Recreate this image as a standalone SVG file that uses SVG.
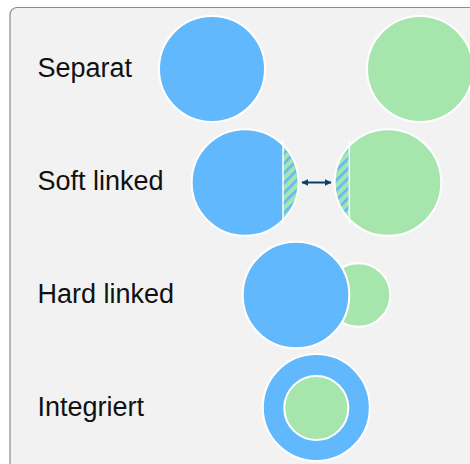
<svg xmlns="http://www.w3.org/2000/svg" width="470" height="464" viewBox="0 0 470 464">
<style>
.lbl{font-family:"Liberation Sans",Arial,sans-serif;font-size:27px;fill:#111}
.b{fill:#62b8fd;stroke:#fff;stroke-width:2}
.g{fill:#a6e6ad;stroke:#fff;stroke-width:2}
</style>
<defs>
<pattern id="hatch" patternUnits="userSpaceOnUse" width="7" height="7" patternTransform="rotate(45)">
<rect width="7" height="7" fill="#a6e6ad"/>
<rect width="2.6" height="7" fill="#62b8fd"/>
</pattern>
<clipPath id="cb"><rect x="283" y="120" width="30" height="130"/></clipPath>
<clipPath id="cg"><rect x="320" y="120" width="29" height="130"/></clipPath>
<marker id="ah" viewBox="0 0 10 10" refX="9" refY="5" markerWidth="7" markerHeight="7" orient="auto-start-reverse" markerUnits="userSpaceOnUse">
<path d="M0,0 L10,5 L0,10 z" fill="#0e3f66"/>
</marker>
</defs>
<rect x="10" y="7.5" width="480" height="480" rx="7" fill="#f2f2f2" stroke="#8c8c8c" stroke-width="1.2"/>
<g id="separat">
<text class="lbl" x="37.5" y="77">Separat</text>
<circle class="b" cx="212" cy="69" r="53"/>
<circle class="g" cx="420" cy="69" r="53"/>
</g>
<g id="soft-linked">
<text class="lbl" x="37.5" y="190">Soft linked</text>
<circle class="b" cx="245" cy="182.5" r="53.3"/>
<circle cx="245" cy="182.5" r="52.3" fill="url(#hatch)" clip-path="url(#cb)"/>
<line x1="283" y1="140" x2="283" y2="225" stroke="#fff" stroke-width="1.5"/>
<circle class="g" cx="388" cy="182.5" r="53.3"/>
<circle cx="388" cy="182.5" r="52.3" fill="url(#hatch)" clip-path="url(#cg)"/>
<line x1="349.3" y1="140" x2="349.3" y2="225" stroke="#fff" stroke-width="1.5"/>
</g>
<g id="hard-linked">
<text class="lbl" x="37.5" y="303">Hard linked</text>
<circle class="g" cx="358.5" cy="295" r="31.8"/>
<circle class="b" cx="296" cy="295" r="53.3"/>
</g>
<g id="integriert">
<text class="lbl" x="37.5" y="416">Integriert</text>
<circle class="b" cx="316.3" cy="407.5" r="53.5"/>
<circle class="g" cx="316.3" cy="408" r="32"/>
</g>
<g id="connectors">
<line x1="302" y1="182.5" x2="331" y2="182.5" stroke="#0e3f66" stroke-width="2" marker-start="url(#ah)" marker-end="url(#ah)"/>
</g>
</svg>
